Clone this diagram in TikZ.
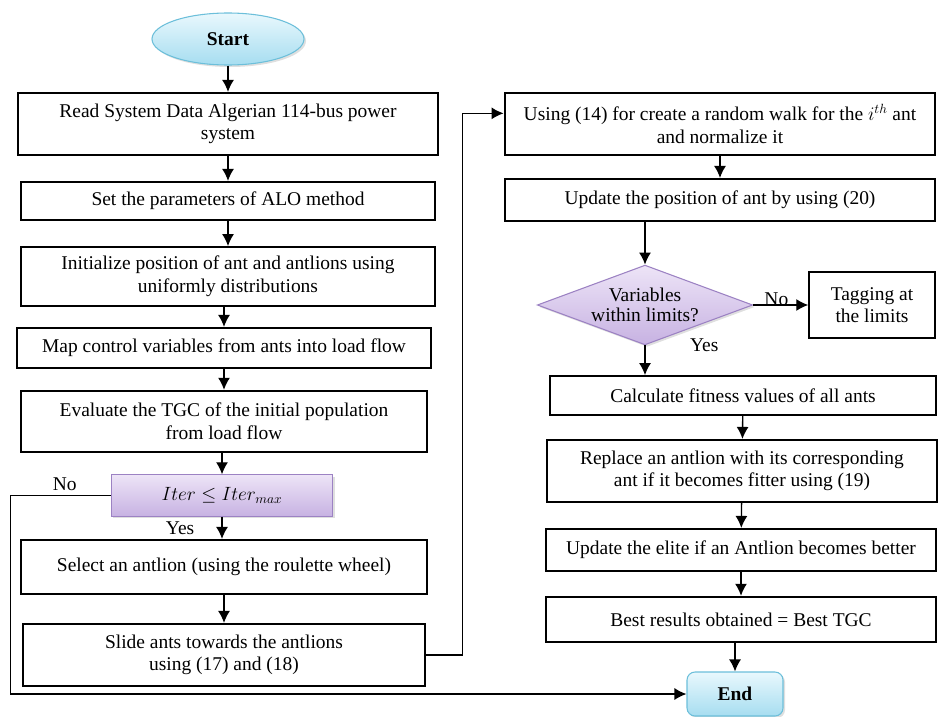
\documentclass[tikz,border=0pt]{standalone}
\usepackage{fontspec}
\setmainfont{Liberation Serif}
\usepackage{amssymb}
\usepackage{tikz}
\usetikzlibrary{shapes.geometric,arrows.meta,shadows}
\definecolor{bluetop}{HTML}{E9F8FD}
\definecolor{bluebot}{HTML}{A6DDF0}
\definecolor{blueline}{HTML}{6CBFDA}
\definecolor{lilactop}{HTML}{EDE4F7}
\definecolor{lilacbot}{HTML}{C7B2E2}
\definecolor{lilacline}{HTML}{9C82C3}

\begin{document}
\begin{tikzpicture}[x=0.75pt,y=-0.75pt,>={Latex[length=9pt,width=9pt]},
font=\fontsize{14.6}{17}\selectfont,
box/.style={draw,line width=1.6pt,align=center,inner sep=2pt},
term/.style={draw=blueline,line width=0.8pt,top color=bluetop,bottom color=bluebot,
  font=\fontsize{14.6}{17}\selectfont\bfseries,
  drop shadow={opacity=0.25,shadow xshift=1.5pt,shadow yshift=-1.5pt}},
cond/.style={draw=lilacline,line width=0.8pt,top color=lilactop,bottom color=lilacbot,align=center,
  drop shadow={opacity=0.25,shadow xshift=1.5pt,shadow yshift=-1.5pt}},
line/.style={line width=1pt}]
\useasboundingbox (0,0) rectangle (942,717);

\node[term,ellipse,minimum width=114pt,minimum height=39pt] (0) at (228,39) {Start};
\node[box,minimum width=315pt,minimum height=46.5pt] (1) at (228,124) {Read System Data Algerian 114-bus power\\system};
\node[box,minimum width=311pt,minimum height=28.5pt] (2) at (228,201) {Set the parameters of ALO method};
\node[box,minimum width=311pt,minimum height=44pt] (3) at (228,276.5) {Initialize position of ant and antlions using\\uniformly distributions};
\node[box,minimum width=310pt,minimum height=30pt] (4) at (224,348) {Map control variables from ants into load flow};
\node[box,minimum width=304pt,minimum height=46pt] (5) at (224,421.5) {Evaluate the TGC of the initial population\\from load flow};
\node[cond,minimum width=166pt,minimum height=31pt] (6) at (222,495.5) {$Iter \leq Iter_{max}$};
\node[box,minimum width=304pt,minimum height=40.5pt] (7) at (224,567) {Select an antlion (using the roulette wheel)};
\node[box,minimum width=301pt,minimum height=46.5pt] (8) at (224,655) {Slide ants towards the antlions\\using (17) and (18)};

\node[box,minimum width=323pt,minimum height=46.5pt] (9) at (720,124) {Using (14) for create a random walk for the $i^{th}$ ant\\and normalize it};
\node[box,minimum width=323pt,minimum height=31.5pt] (10) at (720,200) {Update the position of ant by using (20)};
\node[cond,diamond,aspect=2.7,inner sep=1.5pt,font=\fontsize{14.6}{15.5}\selectfont] (11) at (645,305) {Variables\\within limits?};
\node[box,minimum width=94pt,minimum height=49pt] (12) at (872,305) {Tagging at\\the limits};
\node[box,minimum width=289pt,minimum height=29pt] (13) at (743,395.5) {Calculate fitness values of all ants};
\node[box,minimum width=292.5pt,minimum height=46.5pt] (14) at (742,471) {Replace an antlion with its corresponding\\ant if it becomes fitter using (19)};
\node[box,minimum width=293pt,minimum height=31.5pt] (15) at (741,550) {Update the elite if an Antlion becomes better};
\node[box,minimum width=292pt,minimum height=34pt] (16) at (741,619.5) {Best results obtained = Best TGC};
\node[term,rectangle,rounded corners=6pt,minimum width=72pt,minimum height=33pt] (17) at (735,694) {End};

\draw[line,->] (0) -- (0 |- 1.north);
\draw[line,->] (1.south -| 2) -- (2.north);
\draw[line,->] (2.south -| 3) -- (3.north);
\draw[line,->] (3.south -| 4) -- (4.north);
\draw[line,->] (4.south -| 5) -- (5.north);
\draw[line,->] (5.south -| 6) -- (6.north);
\draw[line,->] (6.south) -- (6.south |- 7.north) node[midway,left=17pt]{Yes};
\draw[line,->] (7.south -| 8) -- (8.north);
\draw[line,->] (6.west) -- ++(-100,0) node[pos=0.46,above]{No} |- (17.west);
\draw[line,->] (8.east) -- ++(37,0) |- ([yshift=8pt]9.west);
\draw[line,->] (9.south) -- (10.north);
\draw[line,->] (10.south -| 11.north) -- (11.north);
\draw[line,->] (11.east) -- (12.west) node[pos=0.42,anchor=base,inner sep=0pt]{No};
\draw[line,->] (11.south) -- (11.south |- 13.north) node[pos=0,right=30pt]{Yes};
\draw[line,->] (13) -- (14);
\draw[line,->] (14) -- (15);
\draw[line,->] (15) -- (16);
\draw[line,->] (16.south -| 17.north) -- (17.north);
\end{tikzpicture}
\end{document}
